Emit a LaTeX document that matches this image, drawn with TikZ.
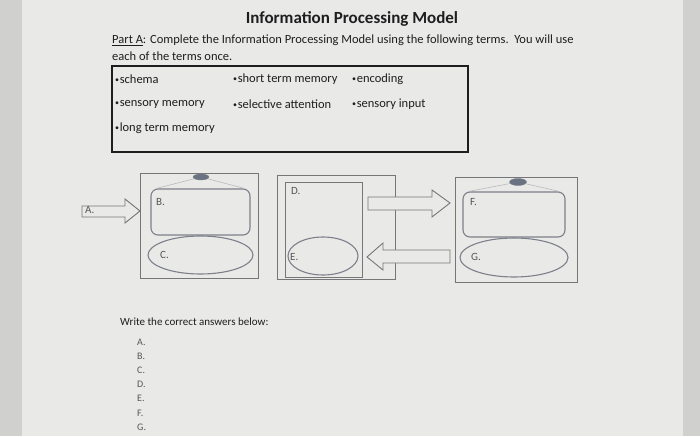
\documentclass[tikz,border=0pt]{standalone}
\usepackage{fontspec}
\setmainfont{Carlito}
\usetikzlibrary{calc, shapes.geometric}
\definecolor{PageGray}{RGB}{233,233,231}
\definecolor{EdgeGray}{RGB}{208,208,206}
\definecolor{FrameGray}{RGB}{118,118,120}
\definecolor{ShapeGray}{RGB}{125,128,138}
\definecolor{InkGray}{RGB}{30,30,32}
\definecolor{KnobBlue}{RGB}{105,115,130}
\tikzset{
  frame/.style={draw=FrameGray, line width=0.9pt},
  store/.style={draw=ShapeGray, line width=1.1pt, rounded corners=7pt, minimum width=99pt, minimum height=46pt, inner sep=0pt},
  sack/.style={draw=ShapeGray, line width=1.1pt, ellipse, inner sep=0pt},
  knob/.style={ellipse, fill=KnobBlue, draw=ShapeGray, minimum width=16pt, minimum height=6pt, inner sep=0pt},
  tie/.style={draw=ShapeGray!60, line width=0.5pt},
  blockarrow/.style={draw=FrameGray, line width=0.9pt, fill=PageGray},
  tag/.style={font=\fontsize{11}{12}\selectfont, text=InkGray!75, anchor=north west, inner sep=0pt},
  term/.style={font=\fontsize{12.5}{14}\selectfont, text=InkGray, anchor=west, inner sep=0pt},
}
\newcommand{\termdot}{{\fontsize{8}{9}\selectfont\raisebox{0.8pt}{•}\hspace{0.6pt}}}

\begin{document}
\begin{tikzpicture}[x=1pt, y=-1pt]

\fill[PageGray] (0,0) rectangle (700,436);
\fill[EdgeGray] (0,0) rectangle (22,436);
\fill[EdgeGray] (683,0) rectangle (700,436);
\useasboundingbox (0,0) rectangle (700,436);

\node[font=\fontsize{17}{20}\selectfont\bfseries, text=InkGray] (title) at (352,19) {Information Processing Model};
\node[font=\fontsize{12.5}{14}\selectfont, text=InkGray, anchor=west, inner sep=0pt] (intro) at (112,40)
    {\underline{Part A}: Complete the Information Processing Model using the following terms.\ \ You will use};
\node[font=\fontsize{12.5}{14}\selectfont, text=InkGray, anchor=west, inner sep=0pt] (intro2) at (112,56) {each of the terms once.};

% word bank
\draw[line width=1.6pt, InkGray] (112,66) rectangle (468,152);
\node[term] (t1) at (115,79) {\termdot schema};
\node[term] (t2) at (233,79) {\termdot short term memory};
\node[term] (t3) at (352,79) {\termdot encoding};
\node[term] (t4) at (115,104) {\termdot sensory memory};
\node[term] (t5) at (233,104) {\termdot selective attention};
\node[term] (t6) at (352,104) {\termdot sensory input};
\node[term] (t7) at (115,128) {\termdot long term memory};

% first unit
\draw[frame] (140,173) rectangle (258,278);
\node[store] (B) at (200.5,212) {};
\node[sack, minimum width=105pt, minimum height=38pt] (C) at (200.5,255) {};
\node[knob] (k1) at (201,177) {};
\draw[tie] (k1) -- ($(B.north west)+(6,0)$);
\draw[tie] (k1) -- ($(B.north east)+(-6,0)$);
\node[tag] (lb) at (156,198) {B.};
\node[tag] (lc) at (160,251) {C.};

\draw[blockarrow] (82,206) -- (125,206) -- (125,199) -- (140,211) -- (125,223) -- (125,217) -- (82,217) -- cycle;
\node[tag] (la) at (85,206) {A.};

% second unit
\draw[frame] (277,175) rectangle (395,279);
\draw[frame] (285,182) rectangle (362,277);
\node[sack, minimum width=70pt, minimum height=38pt] (E) at (323,256) {};
\node[tag] (ld) at (291,187) {D.};
\node[tag] (le) at (290,253) {E.};

\draw[blockarrow] (368,197) -- (432,197) -- (432,190) -- (450,203) -- (432,217) -- (432,210) -- (368,210) -- cycle;
\draw[blockarrow] (450,250) -- (383,250) -- (383,243) -- (367,257) -- (383,270) -- (383,263) -- (450,263) -- cycle;

% third unit
\draw[frame] (455,177) rectangle (577,282);
\node[store, minimum width=102pt, minimum height=45pt] (F) at (514,214.5) {};
\node[sack, minimum width=108pt, minimum height=39pt] (G) at (514,257.5) {};
\node[knob, minimum width=17pt, minimum height=7pt] (k2) at (518,182) {};
\draw[tie] (k2) -- ($(F.north west)+(6,0)$);
\draw[tie] (k2) -- ($(F.north east)+(-6,0)$);
\node[tag] (lf) at (470,198) {F.};
\node[tag] (lg) at (471,253) {G.};

% answers
\node[font=\fontsize{11}{13}\selectfont, text=InkGray, anchor=west, inner sep=0pt] (ask) at (120,322) {Write the correct answers below:};
\foreach \l [count=\i] in {A,B,C,D,E,F,G}
    \node[tag, font=\fontsize{10}{11}\selectfont, anchor=west] (ans-\l) at (137,{342+(\i-1)*14.2}) {\l.};

\end{tikzpicture}
\end{document}
